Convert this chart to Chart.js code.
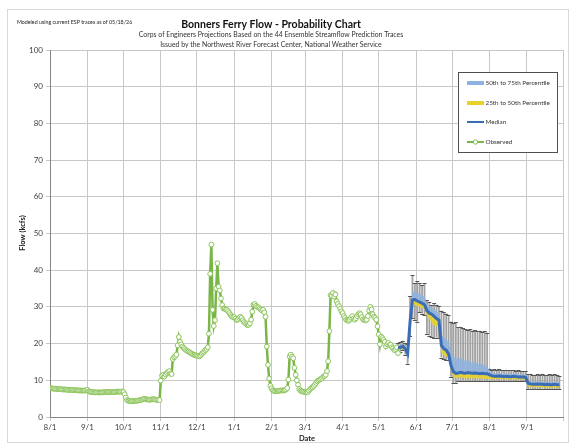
<!DOCTYPE html>
<html><head><meta charset="utf-8">
<script src="https://cdn.jsdelivr.net/npm/chart.js@4.4.1/dist/chart.umd.min.js"></script>
<style>html,body{margin:0;padding:0;background:#fff;}canvas{display:block;}</style>
</head><body>
<canvas id="c" width="570" height="445"></canvas>
<script>
// ---- x-axis ticks (days since 8/1) ----
const tickDays   = [0,31,61,92,122,153,184,212,243,273,304,334,365,396,426];
const tickLabels = ['8/1','9/1','10/1','11/1','12/1','1/1','2/1','3/1','4/1','5/1','6/1','7/1','8/1','9/1',''];

// ---- observed daily flow (kcfs), starting 8/1 ----
const obsAug = [7.8,7.8,7.8,7.7,7.7,7.7,7.6,7.6,7.6,7.6,7.5,7.5,7.5,7.5,7.4,7.4,7.4,7.4,7.4,7.3,7.3,7.3,7.3,7.3,7.2,7.2,7.2,7.2,7.2,7.2,7.3];
const obsSep = [7.4,7.0,6.9,6.8,6.8,6.8,6.7,6.7,6.7,6.7,6.7,6.7,6.7,6.7,6.8,6.8,6.8,6.8,6.8,6.8,6.8,6.8,6.8,6.8,6.9,6.9,6.9,6.9,6.9,7.0];
const obsOct = [6.8,6.2,5.3,4.6,4.4,4.4,4.3,4.3,4.3,4.4,4.4,4.4,4.5,4.5,4.6,4.7,4.8,5.0,4.9,4.8,4.8,4.7,4.7,4.8,4.8,4.9,4.8,4.7,4.7,4.7,4.6];
const obsNov = [9.9,11.3,11.5,11.0,11.6,12.0,12.3,12.5,11.8,11.7,15.8,16.3,16.6,17.0,19.5,21.8,20.5,19.8,19.2,18.8,18.5,18.2,18.0,17.8,17.6,17.4,17.2,17.0,16.9,16.8];
const obsDec = [16.7,16.6,16.5,16.8,17.2,17.5,17.8,18.2,18.5,19.0,22.7,39.0,47.0,29.2,24.8,26.4,35.0,41.9,35.5,34.5,32.3,30.5,29.6,29.5,29.3,29.2,28.8,28.3,27.8,27.4,27.2];
const obsJan = [27.2,26.8,26.4,26.6,27.0,27.3,27.0,26.4,25.9,25.6,25.3,25.0,25.1,25.5,26.5,28.7,30.6,30.8,30.3,30.0,29.9,29.6,29.3,29.0,29.2,28.5,27.3,19.2,14.2,10.5,8.5];
const obsFeb = [7.8,7.3,7.1,7.0,7.0,7.1,7.1,7.2,7.2,7.3,7.2,7.3,7.5,7.9,10.2,16.5,17.0,16.4,16.0,13.4,11.5,10.0,8.8,7.6,7.2,7.0,6.9,6.9];
const obsMar = [6.8,6.7,6.8,7.2,7.6,7.9,8.1,8.4,8.8,9.3,9.7,10.0,10.2,10.4,10.6,11.0,11.2,11.5,12.5,15.2,23.4,33.2,33.0,33.8,32.8,33.4,31.5,30.8,30.2,29.5,28.8];
const obsApr = [28.3,27.5,27.0,26.5,26.3,26.2,26.5,27.0,27.5,26.8,26.5,26.9,27.5,28.0,28.3,28.0,27.2,26.6,26.4,26.3,26.5,27.5,29.0,30.0,29.3,28.0,27.3,27.0,26.5,24.7];
const obsMay = [22.5,19.8,21.9,21.5,21.0,20.5,19.2,19.8,20.2,19.6,19.7,19.0,18.7,18.2,18.5,19.0,17.4];

// ---- forecast (days since 8/1) ----
const fcstDay = [289,291,293,295,297,299,301,303,305,307,309,311,313,315,317,319,321,323,325,327,329,331,333,335,337,339,341,343,345,347,349,351,353,355,357,359,361,363,365,367,369,371,373,375,377,379,381,383,385,387,389,391,393,395,397,399,401,403,405,407,409,411,413,415,417,419,421,423];
const fcstMedian = [19.0,18.9,19.3,18.5,17.3,26.0,31.9,32.0,31.6,31.3,31.0,30.6,29.0,28.3,28.0,27.4,26.8,26.4,19.5,18.6,18.2,17.2,14.0,12.3,11.9,12.0,12.2,12.0,11.9,12.1,12.0,11.9,12.0,11.9,11.8,11.9,11.8,11.8,11.5,11.2,11.1,11.1,11.2,11.1,11.0,11.1,11.0,11.0,11.1,11.0,10.9,10.9,10.9,10.8,9.2,9.0,8.9,8.9,9.0,8.9,8.9,8.8,8.9,8.8,8.8,8.9,8.8,8.8];
const fcstP75 = [19.5,19.6,20.0,19.3,18.5,28.0,34.0,34.5,33.8,33.5,33.2,32.8,30.8,30.2,29.8,29.2,28.8,28.3,22.5,21.8,21.2,20.5,18.0,16.5,16.0,15.8,16.2,15.6,15.3,15.5,15.0,14.8,15.0,14.6,14.3,14.5,14.0,13.8,12.6,12.0,11.8,11.8,11.9,11.8,11.7,11.8,11.7,11.7,11.8,11.7,11.6,11.6,11.6,11.5,9.9,9.7,9.6,9.6,9.7,9.6,9.6,9.5,9.6,9.5,9.5,9.6,9.5,9.5];
const fcstP25 = [18.5,18.3,18.6,17.8,16.5,24.8,30.5,30.6,30.2,30.0,29.7,29.3,27.5,26.8,25.5,25.0,24.6,24.3,17.5,16.8,16.4,16.0,12.8,10.9,10.6,10.7,10.8,10.6,10.5,10.6,10.5,10.5,10.6,10.5,10.4,10.5,10.4,10.4,10.3,10.3,10.3,10.3,10.4,10.3,10.3,10.3,10.2,10.2,10.3,10.2,10.2,10.2,10.2,10.1,8.3,8.1,8.1,8.1,8.2,8.1,8.1,8.0,8.1,8.0,8.0,8.1,8.0,8.0];
const fcstHigh = [20.2,20.5,20.8,20.2,19.8,33.0,38.6,36.4,37.0,36.4,36.0,36.4,31.8,31.2,30.5,31.0,30.6,30.2,29.0,28.5,28.2,27.7,26.0,25.5,25.9,24.5,24.6,24.2,24.0,23.8,24.0,23.5,23.6,23.4,23.5,23.2,23.4,23.0,13.2,12.9,13.0,12.8,13.1,12.8,12.7,12.9,12.7,12.8,12.7,12.6,12.7,12.6,12.5,12.5,11.6,11.8,11.5,11.4,11.6,11.5,11.8,11.4,11.5,11.7,11.4,11.6,11.5,11.3];
const fcstLow = [18.0,17.8,18.2,17.0,14.5,22.0,27.0,26.5,26.0,28.5,28.2,27.8,22.7,22.2,21.8,21.5,21.6,21.4,16.2,15.8,15.5,15.6,11.0,9.2,9.3,9.9,9.8,9.9,9.8,9.9,9.8,9.9,9.8,9.8,9.8,9.9,9.8,9.8,9.9,9.9,9.8,9.9,9.8,9.9,9.8,9.9,9.8,9.9,9.8,9.8,9.8,9.7,9.8,9.7,7.6,7.7,7.5,7.6,7.6,7.5,7.7,7.5,7.6,7.5,7.6,7.5,7.6,7.5];

const FONT = 'Lato, "Open Sans", sans-serif';
const obsFlow = [].concat(obsAug, obsSep, obsOct, obsNov, obsDec, obsJan, obsFeb, obsMar, obsApr, obsMay);
const obsData = obsFlow.map((v, i) => ({x: i, y: v}));
const pts = arr => fcstDay.map((d, i) => ({x: d, y: arr[i]}));

const whiskerPlugin = {
  id: 'whiskers',
  beforeDatasetsDraw(chart) {
    const {ctx, scales: {x, y}} = chart;
    ctx.save();
    ctx.lineWidth = 1.8;
    ctx.strokeStyle = '#a2a2a2';
    ctx.beginPath();
    fcstDay.forEach((d, i) => {
      const px = x.getPixelForValue(d);
      ctx.moveTo(px, y.getPixelForValue(fcstLow[i]));
      ctx.lineTo(px, y.getPixelForValue(fcstHigh[i]));
    });
    ctx.stroke();
    ctx.lineWidth = 1;
    ctx.strokeStyle = '#555555';
    ctx.beginPath();
    fcstDay.forEach((d, i) => {
      const px = x.getPixelForValue(d);
      [fcstLow[i], fcstHigh[i]].forEach(v => {
        const py = Math.round(y.getPixelForValue(v)) + 0.5;
        ctx.moveTo(px - 2, py); ctx.lineTo(px + 2, py);
      });
    });
    ctx.stroke();
    ctx.restore();
  }
};

const textPlugin = {
  id: 'texts',
  afterDraw(chart) {
    const ctx = chart.ctx;
    ctx.save();
    ctx.strokeStyle = '#d9d9d9'; ctx.lineWidth = 1;
    ctx.strokeRect(7.5, 9.5, 561, 433);
    ctx.fillStyle = '#222';
    ctx.textBaseline = 'middle';
    ctx.textAlign = 'left';
    ctx.font = '5.3px ' + FONT;
    ctx.fillText('Modeled using current ESP traces as of 05/18/26', 17, 22);
    ctx.textAlign = 'center';
    ctx.fillStyle = '#111';
    ctx.font = 'bold 10.5px ' + FONT;
    ctx.fillText('Bonners Ferry Flow - Probability Chart', 271, 25);
    ctx.fillStyle = '#333';
    ctx.font = '6.9px ' + FONT;
    ctx.fillText('Corps of Engineers Projections Based on the 44 Ensemble Streamflow Prediction Traces', 271, 34.8);
    ctx.fillText('Issued by the Northwest River Forecast Center, National Weather Service', 271, 44.8);
    ctx.fillStyle = '#222';
    ctx.font = 'bold 7.5px ' + FONT;
    ctx.fillText('Date', 307, 439);
    ctx.save();
    ctx.translate(23, 233);
    ctx.rotate(-Math.PI / 2);
    ctx.fillText('Flow (kcfs)', 0, 0);
    ctx.restore();
    // legend
    ctx.fillStyle = '#fff';
    ctx.fillRect(458, 72.5, 99, 80);
    ctx.strokeStyle = '#505050';
    ctx.strokeRect(458.5, 72.5, 99, 80);
    const lx0 = 467, lx1 = 484, tx = 485.5;
    ctx.textAlign = 'left';
    ctx.font = '6.3px ' + FONT;
    ctx.fillStyle = '#8db3e2'; ctx.fillRect(lx0, 81, lx1 - lx0, 4);
    ctx.fillStyle = '#e8d22a'; ctx.fillRect(lx0, 101, lx1 - lx0, 4);
    ctx.strokeStyle = '#3b6db5'; ctx.lineWidth = 2;
    ctx.beginPath(); ctx.moveTo(lx0, 122); ctx.lineTo(lx1, 122); ctx.stroke();
    ctx.strokeStyle = '#7ab547'; ctx.lineWidth = 2;
    ctx.beginPath(); ctx.moveTo(lx0, 142); ctx.lineTo(lx1, 142); ctx.stroke();
    ctx.fillStyle = '#fff'; ctx.strokeStyle = '#86bf55'; ctx.lineWidth = 1;
    ctx.beginPath(); ctx.arc(475.5, 142, 2.2, 0, Math.PI * 2); ctx.fill(); ctx.stroke();
    ctx.fillStyle = '#333';
    ctx.fillText('50th to 75th Percentile', tx, 83);
    ctx.fillText('25th to 50th Percentile', tx, 103);
    ctx.fillText('Median', tx, 122);
    ctx.fillText('Observed', tx, 142);
    ctx.restore();
  }
};

new Chart(document.getElementById('c').getContext('2d'), {
  type: 'line',
  data: {
    datasets: [
      {label: '50th to 75th Percentile', data: pts(fcstP75), borderWidth: 0, pointRadius: 0, fill: {target: 1}, backgroundColor: 'rgba(141,179,226,0.85)', order: 3},
      {label: 'Median', data: pts(fcstMedian), borderColor: '#3b6db5', borderWidth: 3, pointRadius: 0, fill: false, order: 0},
      {label: '25th to 50th Percentile', data: pts(fcstP25), borderWidth: 0, pointRadius: 0, fill: {target: 1}, backgroundColor: 'rgba(232,210,42,0.9)', order: 2},
      {label: 'Observed', data: obsData, borderColor: '#7ab547', borderWidth: 2.5, pointRadius: 2.4, pointBackgroundColor: '#fff', pointBorderColor: '#8cc45a', pointBorderWidth: 1, fill: false, order: 1}
    ]
  },
  options: {
    responsive: false,
    animation: false,
    events: [],
    layout: {padding: {top: 50, right: 7, left: 0, bottom: 0}},
    plugins: {legend: {display: false}, tooltip: {enabled: false}, title: {display: false}},
    scales: {
      x: {
        type: 'linear', min: 0, max: 426,
        afterBuildTicks: s => { s.ticks = tickDays.map(v => ({value: v})); },
        afterFit: s => { s.height = 28; },
        ticks: {autoSkip: false, maxRotation: 0, padding: 2, color: '#404040', font: {family: FONT, size: 8},
          callback: v => { const i = tickDays.indexOf(v); return i >= 0 ? tickLabels[i] : ''; }},
        grid: {color: '#c8c8c8', tickLength: 4},
        border: {color: '#868686'}
      },
      y: {
        min: 0, max: 100,
        afterFit: s => { s.width = 50; },
        ticks: {stepSize: 10, padding: 3, color: '#404040', font: {family: FONT, size: 8}},
        grid: {color: '#c8c8c8', tickLength: 4},
        border: {color: '#868686'}
      }
    }
  },
  plugins: [whiskerPlugin, textPlugin]
});
</script>
</body></html>
